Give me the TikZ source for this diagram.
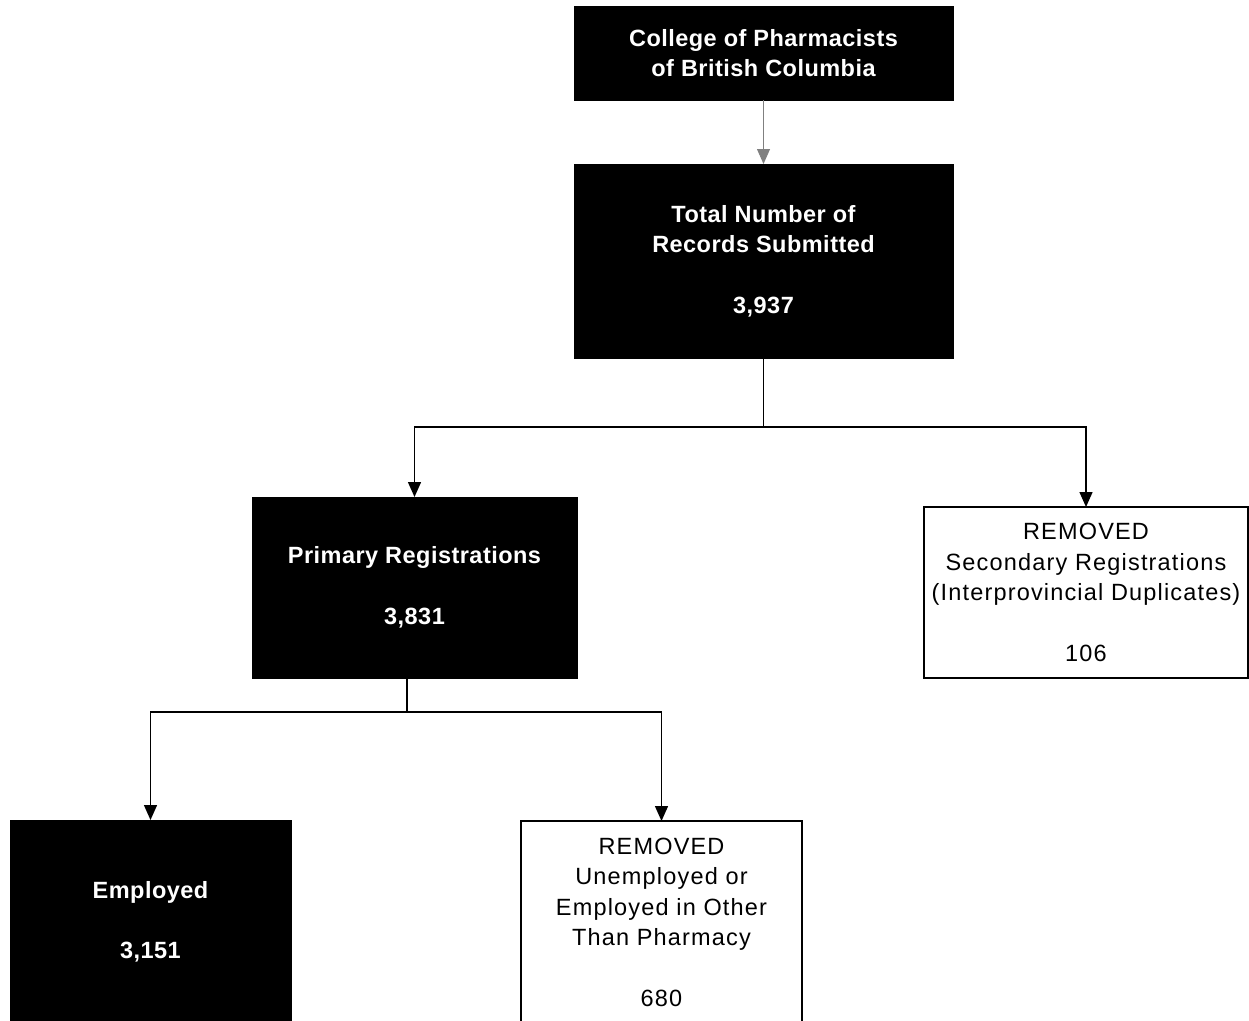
\documentclass[tikz,border=0pt]{standalone}
\usepackage{fontspec}
\setmainfont[LetterSpace=5,BoldFeatures={LetterSpace=2}]{Liberation Sans}
\usetikzlibrary{arrows.meta,positioning,calc}

\begin{document}
\begin{tikzpicture}[
  x=1pt,y=1pt,
  font=\fontsize{23.5}{30.5}\selectfont,
  node distance=64pt,
  darkbox/.style={draw,fill=black,text=white,font=\fontsize{23.5}{30.5}\selectfont\bfseries,align=center,inner sep=0pt,outer sep=0pt,minimum width=379pt},
  lightbox/.style={draw,line width=1.2pt,fill=white,align=center,inner sep=0pt,outer sep=0pt},
  arr/.style={-{Triangle[length=15pt,width=13pt]},line width=1.4pt},
  feed/.style={-{Triangle[length=15pt,width=13pt]},gray,line width=0.9pt},
]
\useasboundingbox (0,0) rectangle (1249,-1020);
\clip (0,0) rectangle (1249,-1020);
\node[darkbox,minimum height=94pt] (college) at (763.5,-53) {College of Pharmacists\\of British Columbia};
\node[darkbox,minimum height=194pt,below=64pt of college] (total) {Total Number of\\Records Submitted\\[30pt]3,937};
\node[darkbox,minimum width=325pt,minimum height=181pt] (primary) at (414.5,-587.5) {Primary Registrations\\[30pt]3,831};
\node[lightbox,minimum width=324pt,minimum height=171pt] (second) at (1086,-592.5) {REMOVED\\Secondary Registrations\\(Interprovincial Duplicates)\\[30pt]106};
\node[darkbox,minimum width=281pt,minimum height=204pt] (employed) at (150.5,-922) {Employed\\[30pt]3,151};
\node[lightbox,minimum width=281pt,minimum height=202pt] (other) at (661.5,-922) {REMOVED\\Unemployed or\\Employed in Other\\Than Pharmacy\\[30pt]680};
% connectors
\coordinate (split1) at ($(total.south)+(0,-69)$);
\coordinate (drop2) at ($(primary.south)+(-7.5,0)$);
\coordinate (split2) at ($(drop2)+(0,-34)$);
\draw[feed] (college) -- (total);
\draw[line width=1.4pt] (total.south) -- (split1);
\draw[arr] (split1) -| (primary.north);
\draw[arr] (split1) -| (second.north);
\draw[line width=1.4pt] (drop2) -- (split2);
\draw[arr] (split2) -| (employed.north);
\draw[arr] (split2) -| (other.north);
\end{tikzpicture}
\end{document}
